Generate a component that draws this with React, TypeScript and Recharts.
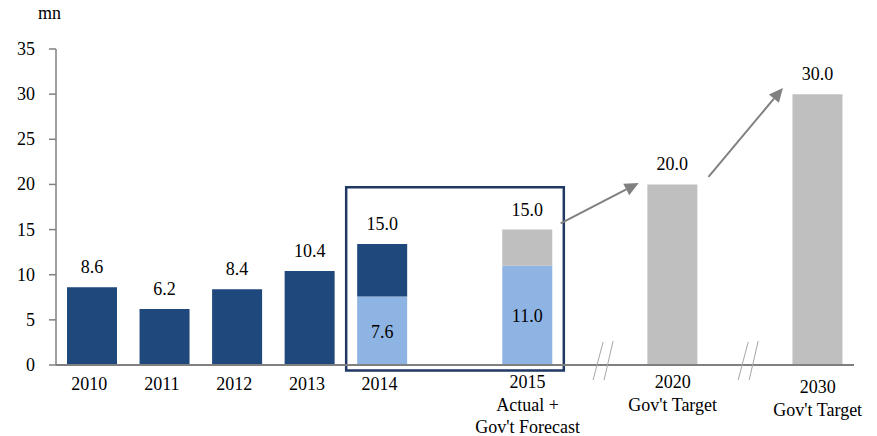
import React from 'react';
import { BarChart, Bar, XAxis, YAxis, LabelList, ReferenceArea, ReferenceLine } from 'recharts';

const FONT = '"Liberation Serif", "Times New Roman", serif';

// category slots, blanks are spacers between the forecast groups
const categories = ['2010', '2011', '2012', '2013', '2014', 'gap1', '2015', 'gap2', '2020', 'gap3', '2030'];
const actual = [8.6, 6.2, 8.4, 10.4, 5.8, null, null, null, null, null, null];
const actualLight = [null, null, null, null, 7.6, null, 11.0, null, null, null, null];
const target = [null, null, null, null, null, null, 4.0, null, 20.0, null, 30.0];
const topLabels = ['8.6', '6.2', '8.4', '10.4', '15.0', '', '15.0', '', '20.0', '', '30.0'];
const innerLabels = ['', '', '', '', '7.6', '', '11.0', '', '', '', ''];
const tickLines: Record<string, string[]> = {
  '2015': ['2015', 'Actual +', "Gov't Forecast"],
  '2020': ['2020', "Gov't Target"],
  '2030': ['2030', "Gov't Target"],
};
const breakTicks = ['gap2', 'gap3'];
const yTicks = [0, 5, 10, 15, 20, 25, 30, 35];

// top label goes on whichever segment ends the stack
const data = categories.map((c, i) => ({
  cat: c,
  actual: actual[i],
  light: actualLight[i],
  target: target[i],
  inner: innerLabels[i],
  actualTop: target[i] == null ? topLabels[i] : '',
  targetTop: target[i] != null ? topLabels[i] : '',
}));

const XTick = ({ x, y, payload }: any) => {
  const v = payload.value as string;
  if (breakTicks.includes(v)) {
    return (
      <g stroke="#A6A6A6" strokeWidth={1}>
        <line x1={x - 7} y1={y + 15} x2={x + 3} y2={y - 23} />
        <line x1={x + 4} y1={y + 15} x2={x + 13} y2={y - 24} />
      </g>
    );
  }
  if (v.startsWith('gap')) return null;
  const lines = tickLines[v] || [v];
  const first = v === '2030' ? 28 : lines.length > 1 ? 23 : 25;
  const dx = lines.length > 1 ? 0 : -3;
  return (
    <text x={x + dx} y={y + first} textAnchor="middle" fontFamily={FONT} fontSize={18} fill="#000">
      {lines.map((l, i) => (
        <tspan key={i} x={x + dx} dy={i === 0 ? 0 : 22.5}>{l}</tspan>
      ))}
    </text>
  );
};

const YTick = ({ x, y, payload }: any) => (
  <text x={x} y={y + 6} textAnchor="end" fontFamily={FONT} fontSize={18} fill="#000">
    {payload.value}
  </text>
);

const topLabel = (props: any) => {
  const { x, y, width, value } = props;
  if (!value) return null;
  return (
    <text x={x + width / 2} y={y - 14} textAnchor="middle" fontFamily={FONT} fontSize={18} fill="#000">
      {value}
    </text>
  );
};

const innerLabel = (props: any) => {
  const { x, y, width, height, value } = props;
  if (!value) return null;
  return (
    <text x={x + width / 2} y={y + height / 2 + 7} textAnchor="middle" fontFamily={FONT} fontSize={18} fill="#000">
      {value}
    </text>
  );
};

// arrow between bars, trimmed at both ends
const arrowShape = (trimStart: number, trimEnd: number) => (props: any) => {
  const { x1, y1, x2, y2 } = props;
  if ([x1, y1, x2, y2].some((n) => n == null || isNaN(n))) return null;
  const dx = x2 - x1;
  const dy = y2 - y1;
  const sx = x1 + dx * trimStart;
  const sy = y1 + dy * trimStart;
  const ex = x2 - dx * trimEnd;
  const ey = y2 - dy * trimEnd;
  const len = Math.hypot(ex - sx, ey - sy);
  const ux = (ex - sx) / len;
  const uy = (ey - sy) / len;
  const head = 14;
  const half = 6.5;
  const bx = ex - ux * head;
  const by = ey - uy * head;
  return (
    <g>
      <line x1={sx} y1={sy} x2={bx} y2={by} stroke="#808080" strokeWidth={2} />
      <polygon
        points={`${ex},${ey} ${bx - uy * half},${by + ux * half} ${bx + uy * half},${by - ux * half}`}
        fill="#808080"
      />
    </g>
  );
};

export default function App() {
  return (
    <div style={{ position: 'absolute', left: 0, top: 0, width: 877, height: 436, fontFamily: FONT, background: '#fff' }}>
      <div style={{ position: 'absolute', left: 38, top: 3, fontSize: 18, fontFamily: FONT, color: '#000' }}>mn</div>
      <BarChart width={877} height={436} data={data} margin={{ top: 49, right: 23, bottom: 0, left: 0 }} barSize={50}>
        <XAxis
          dataKey="cat"
          height={71}
          tickLine={false}
          tickSize={0}
          tickMargin={0}
          interval={0}
          axisLine={{ stroke: '#808080', strokeWidth: 2 }}
          tick={<XTick />}
        />
        <YAxis
          width={56}
          domain={[0, 35]}
          ticks={yTicks}
          tickSize={7}
          tickMargin={14}
          axisLine={{ stroke: '#808080', strokeWidth: 1.5 }}
          tickLine={{ stroke: '#808080', strokeWidth: 1.5 }}
          tick={<YTick />}
        />
        <Bar dataKey="light" stackId="a" fill="#8EB4E3" isAnimationActive={false}>
          <LabelList dataKey="inner" content={innerLabel} />
        </Bar>
        <Bar dataKey="actual" stackId="a" fill="#1F497D" isAnimationActive={false}>
          <LabelList dataKey="actualTop" content={topLabel} />
        </Bar>
        <Bar dataKey="target" stackId="a" fill="#BFBFBF" isAnimationActive={false}>
          <LabelList dataKey="targetTop" content={topLabel} />
        </Bar>
        <ReferenceArea
          x1="2014"
          x2="2015"
          y1={-0.6}
          y2={19.7}
          ifOverflow="visible"
          stroke="#1F3864"
          strokeWidth={2.5}
          fill="none"
          fillOpacity={0}
        />
        <ReferenceLine
          segment={[{ x: '2015', y: 13.8 }, { x: '2020', y: 22.1 }]}
          ifOverflow="visible"
          shape={arrowShape(0.228, 0.234)}
        />
        <ReferenceLine
          segment={[{ x: '2020', y: 16.1 }, { x: '2030', y: 35.3 }]}
          ifOverflow="visible"
          shape={arrowShape(0.247, 0.24)}
        />
      </BarChart>
    </div>
  );
}
